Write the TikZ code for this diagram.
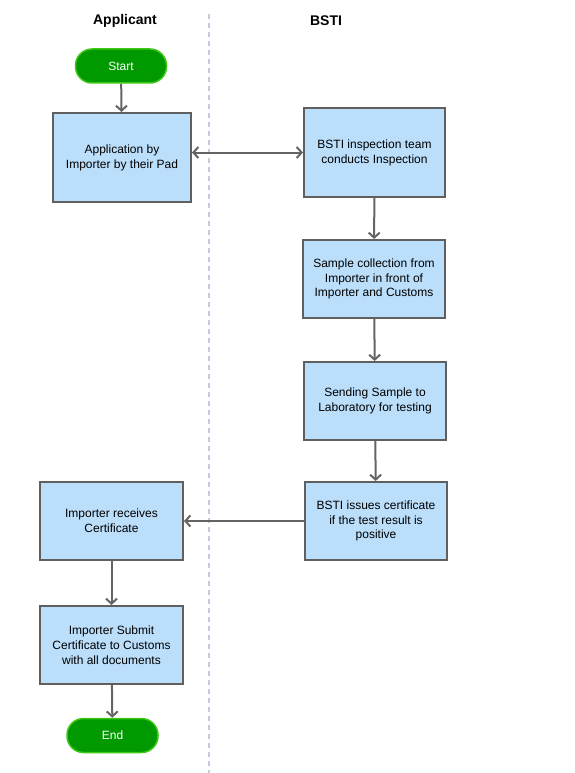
\documentclass[tikz,border=0pt]{standalone}
\usepackage{fontspec}
\setmainfont{Liberation Sans}
\usetikzlibrary{arrows.meta}
\definecolor{boxblue}{RGB}{187,222,251}
\definecolor{boxline}{RGB}{95,95,95}
\definecolor{termgreen}{RGB}{0,153,0}
\definecolor{termline}{RGB}{60,200,20}
\definecolor{lanegray}{RGB}{200,200,222}
\definecolor{arrowgray}{RGB}{100,100,100}

\begin{document}
\begin{tikzpicture}[x=1pt,y=-1pt]
\tikzstyle{every node}=[font=\fontsize{12}{14.8}\selectfont]
\tikzstyle{stepbox}=[draw=boxline,fill=boxblue,line width=2pt,align=center,inner sep=0pt]
\tikzstyle{terminal}=[draw=termline,fill=termgreen,line width=1.5pt,rounded corners=16.5pt,text=white,minimum width=91pt,minimum height=34pt,inner sep=0pt]
\tikzstyle{flow}=[draw=arrowgray,line width=2pt,>={Straight Barb[length=5pt,width=11pt]}]
\tikzstyle{lane}=[font=\bfseries\fontsize{14}{16}\selectfont]

\useasboundingbox (0,0) rectangle (574,773);

%lanes
\node[lane] (applicant) at (125,20.5) {Applicant};
\node[lane] (bsti) at (326,20.5) {BSTI};
\draw[lanegray,line width=1.5pt,dash pattern=on 5pt off 4pt] (209,14) -- (209,773);

%applicant side
\node[terminal] (start) at (121,66) {Start};
\node[stepbox,minimum width=138pt,minimum height=89pt] (apply) at (122,157.5) {Application by\\Importer by their Pad};
\node[stepbox,minimum width=143pt,minimum height=78pt] (receive) at (111.5,521) {Importer receives\\Certificate};
\node[stepbox,minimum width=143pt,minimum height=78pt] (submit) at (111.5,645) {Importer Submit\\Certificate to Customs\\with all documents};
\node[terminal] (end) at (112.5,735.5) {End};

%BSTI side
\node[stepbox,minimum width=141pt,minimum height=88pt] (inspect) at (374.5,152.5) {BSTI inspection team\\conducts Inspection};
\node[stepbox,minimum width=142pt,minimum height=78pt] (sample) at (374,279) {Sample collection from\\Importer in front of\\Importer and Customs};
\node[stepbox,minimum width=142pt,minimum height=78pt] (lab) at (375,401) {Sending Sample to\\Laboratory for testing};
\node[stepbox,minimum width=142pt,minimum height=78pt] (issue) at (376,521) {BSTI issues certificate\\if the test result is\\positive};

%connectors
\draw[flow,->] (start) -- (apply);
\draw[flow,<->] (apply.east |- inspect.west) -- (inspect.west);
\draw[flow,->] (inspect) -- (sample);
\draw[flow,->] (sample) -- (lab);
\draw[flow,->] (lab) -- (issue);
\draw[flow,->] (issue) -- (receive);
\draw[flow,->] (receive) -- (submit);
\draw[flow,->] (submit) -- (end);
\end{tikzpicture}
\end{document}
